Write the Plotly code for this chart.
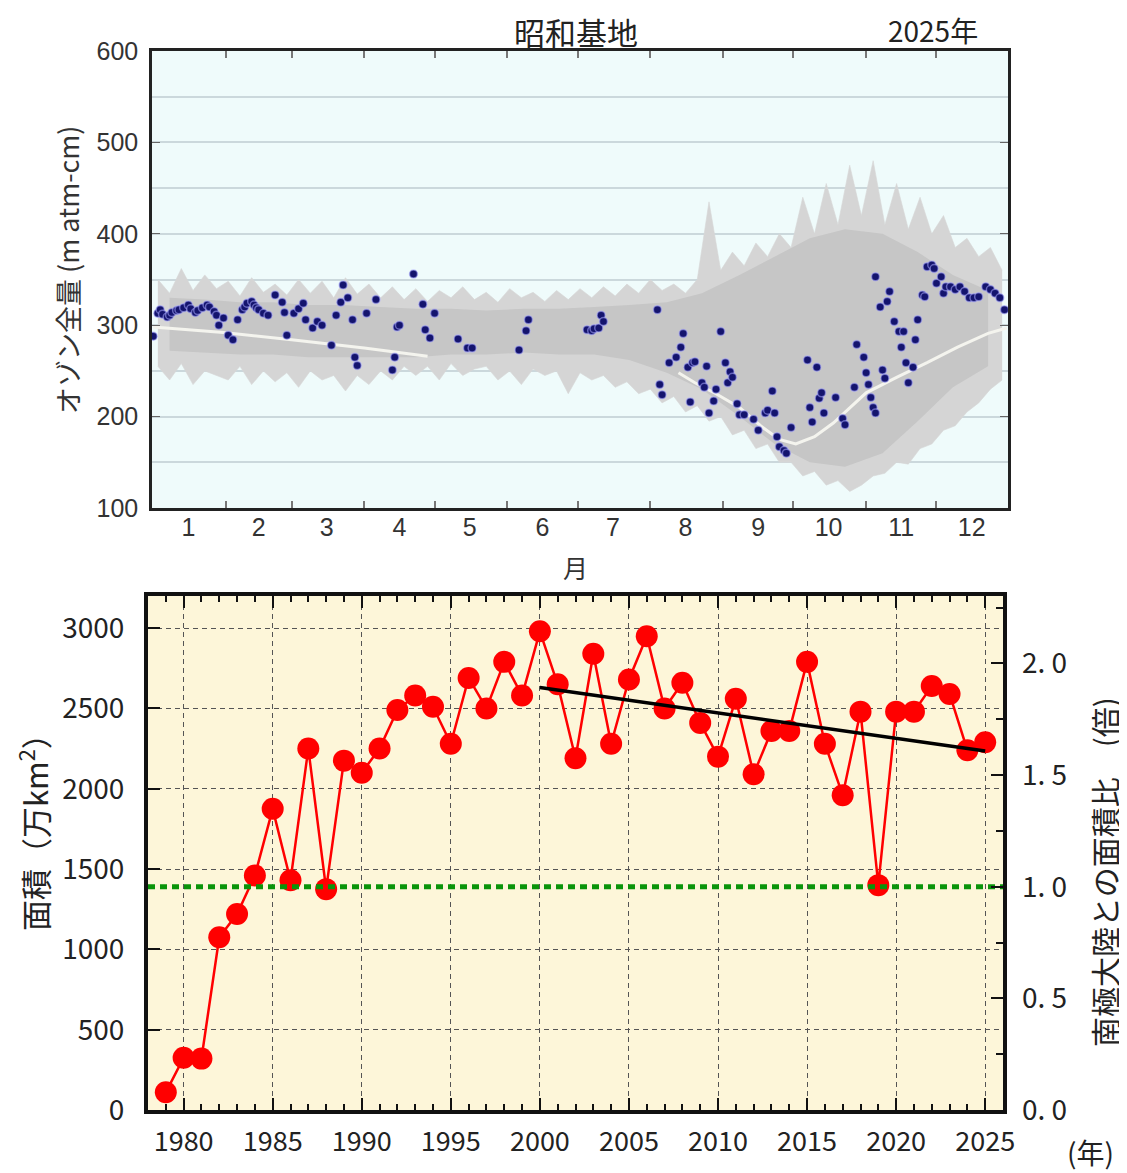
import plotly.graph_objects as go

# ---------------- top chart data (Syowa station, total ozone, 2025) ----------------
month_labels = ["1", "2", "3", "4", "5", "6", "7", "8", "9", "10", "11", "12"]
month_mid_days = [16, 46, 75, 106, 136, 167, 197, 228, 259, 289, 320, 350]
month_start_days = [32, 60, 91, 121, 152, 182, 213, 244, 274, 305, 335]

# historical daily max/min envelope, read at 5-day steps
band_days = list(range(3, 364, 5))
band_max = [350, 335, 362, 338, 355, 340, 348, 332, 352, 336,
            345, 333, 350, 335, 348, 330, 352, 334, 345, 330,
            342, 328, 340, 326, 338, 330, 342, 328, 336, 325,
            340, 330, 336, 326, 338, 328, 340, 330, 342, 332,
            345, 335, 350, 338, 345, 335, 350, 435, 360, 380,
            365, 390, 375, 400, 385, 440, 400, 455, 410, 475,
            420, 480, 410, 455, 405, 440, 400, 420, 385, 395,
            375, 385, 360]
band_min = [255, 240, 258, 235, 250, 245, 240, 255, 235, 250,
            238, 248, 232, 250, 240, 245, 228, 245, 235, 250,
            240, 255, 245, 255, 240, 258, 245, 252, 255, 240,
            250, 235, 252, 245, 250, 225, 248, 240, 245, 232,
            238, 225, 230, 215, 222, 205, 212, 195, 200, 180,
            185, 165, 170, 150, 150, 135, 140, 125, 130, 118,
            125, 135, 138, 150, 148, 165, 170, 185, 190, 205,
            215, 230, 240]

# inner (typical) range, read at half-month steps
inner_days = [8, 23, 38, 52, 67, 82, 98, 113, 128, 143, 159, 174,
              189, 204, 220, 235, 251, 266, 281, 296, 312, 327, 342, 357]
inner_max = [330, 328, 325, 325, 322, 322, 320, 318, 318, 316, 318, 318,
             320, 322, 325, 335, 355, 375, 395, 405, 400, 380, 355, 338]
inner_min = [272, 270, 268, 268, 265, 265, 265, 265, 268, 268, 270, 268,
             268, 262, 248, 230, 200, 170, 150, 145, 160, 195, 232, 255]

# climatological mean (white line), two visible segments
mean_days_1 = [1, 31, 60, 91, 118]
mean_vals_1 = [298, 292, 284, 275, 266]
mean_days_2 = [225, 232, 241, 251, 260, 268, 275, 283, 291, 298, 305, 318, 331, 344, 357, 365]
mean_vals_2 = [248, 237, 225, 210, 190, 175, 170, 178, 193, 210, 226, 243, 259, 276, 291, 297]

# 2025 daily observations
obs_days = [1, 3, 4, 5, 7, 8, 9, 11, 12, 14, 16, 17, 19, 20, 22, 24, 25, 27, 28, 29,
            31, 33, 35, 37, 39, 40, 41, 43, 44, 45, 46, 48, 50, 53, 56, 57, 58, 61, 63, 65,
            66, 69, 71, 73, 77, 79, 81, 82, 84, 86, 87, 88, 92, 96, 103, 104, 105, 106, 112, 116,
            117, 119, 121, 131, 135, 137, 157, 160, 161, 186, 188, 189, 191, 192, 193,
            216, 217, 218, 221, 224, 226, 227, 229, 230, 231, 232, 235, 236, 237, 238, 240, 241,
            243, 245, 246, 247, 248, 250, 251, 253, 257, 259, 262, 263, 265, 266, 267, 268, 270, 271,
            273, 280, 281, 282, 284, 285, 286, 287, 292, 295, 296, 300, 301, 304, 305, 306, 307, 308,
            309, 309, 311, 312, 313, 314, 315, 317, 319, 320, 321, 322, 323, 325, 326, 327, 329, 330,
            331, 333, 334, 335, 337, 338, 339, 341, 343, 345, 347, 349, 351, 353, 356, 358, 360, 362, 364]
obs_vals = [288, 313, 317, 312, 309, 311, 314, 316, 317, 319, 322, 318, 314, 316, 319, 322, 320, 315, 311, 300,
            308, 289, 284, 306, 317, 320, 324, 326, 322, 319, 317, 313, 311, 333, 325, 314, 289, 313, 318, 324,
            306, 297, 304, 300, 278, 311, 325, 344, 330, 306, 265, 256, 313, 328, 251, 265, 298, 300, 356, 323,
            295, 286, 313, 285, 275, 275, 273, 294, 306, 295, 294, 296, 297, 311, 304,
            317, 235, 224, 259, 265, 276, 291, 254, 216, 259, 260, 237, 232, 255, 204, 217, 230,
            293, 259, 237, 249, 243, 214, 202, 202, 197, 185, 204, 207, 228, 204, 178, 167, 163, 160,
            188, 262, 210, 194, 254, 220, 226, 204, 221, 198, 191, 232, 279, 265, 248, 235, 221, 210,
            204, 353, 320, 251, 242, 326, 337, 304, 293, 276, 293, 259, 237, 254, 284, 306, 333, 331,
            364, 366, 362, 346, 353, 335, 342, 342, 339, 342, 337, 330, 330, 331, 342, 339, 335, 330, 317]

# ---------------- bottom chart data (ozone hole area) ----------------
years = list(range(1979, 2026))
hole_area = [110, 325, 320, 1075, 1220, 1460, 1875, 1430, 2250, 1375,
             2175, 2100, 2250, 2490, 2580, 2510, 2280, 2690, 2500, 2790,
             2580, 2980, 2650, 2190, 2840, 2280, 2680, 2950, 2500, 2660,
             2410, 2200, 2560, 2090, 2360, 2360, 2790, 2280, 1960, 2480,
             1400, 2480, 2480, 2640, 2590, 2240, 2290]
trend_years = [2000, 2025]
trend_area = [2630, 2235]
antarctic_area = 1390  # 万km2, area of the Antarctic continent
ratio_ticks = [0.0, 0.5, 1.0, 1.5, 2.0]
ratio_labels = ["0. 0", "0. 5", "1. 0", "1. 5", "2. 0"]

JP = "Noto Sans CJK JP"
SANS = "Liberation Sans"

# page offset (the page body has an 8px margin), figure size fits the window
OFF = 8
W, H = 1127 - OFF, 1173 - OFF


def fx(x):
    return (x - OFF) / W


def fy(y):
    return 1 - (y - OFF) / H


fig = go.Figure()

# ---- top chart traces ----
fig.add_trace(go.Scatter(x=band_days, y=band_min, mode="lines", line=dict(width=0.6, color="#d6d6d6"),
                         xaxis="x", yaxis="y", hoverinfo="skip", showlegend=False))
fig.add_trace(go.Scatter(x=band_days, y=band_max, mode="lines", line=dict(width=0.6, color="#d6d6d6"),
                         fill="tonexty", fillcolor="#d5d5d5",
                         xaxis="x", yaxis="y", hoverinfo="skip", showlegend=False))
fig.add_trace(go.Scatter(x=inner_days, y=inner_min, mode="lines", line=dict(width=0, color="#c4c4c4"),
                         xaxis="x", yaxis="y", hoverinfo="skip", showlegend=False))
fig.add_trace(go.Scatter(x=inner_days, y=inner_max, mode="lines", line=dict(width=0, color="#c4c4c4"),
                         fill="tonexty", fillcolor="#c6c6c6",
                         xaxis="x", yaxis="y", hoverinfo="skip", showlegend=False))
fig.add_trace(go.Scatter(x=mean_days_1 + [None] + mean_days_2, y=mean_vals_1 + [None] + mean_vals_2,
                         mode="lines", line=dict(width=3, color="#f4f4ee"),
                         xaxis="x", yaxis="y", hoverinfo="skip", showlegend=False))
fig.add_trace(go.Scatter(x=obs_days, y=obs_vals, mode="markers",
                         marker=dict(size=8, color="#14146e", line=dict(width=1.5, color="rgba(170,170,255,0.55)")),
                         xaxis="x", yaxis="y", showlegend=False))

# ---- bottom chart traces ----
fig.add_trace(go.Scatter(x=[1978, 2026], y=[1.0, 1.0], mode="lines",
                         line=dict(width=5, color="#0a940a", dash="7px,5px"),
                         xaxis="x2", yaxis="y3", hoverinfo="skip", showlegend=False))
fig.add_trace(go.Scatter(x=years, y=hole_area, mode="lines+markers",
                         line=dict(width=2.5, color="#ff0000"),
                         marker=dict(size=22, color="#ff0000"),
                         xaxis="x2", yaxis="y2", showlegend=False))
fig.add_trace(go.Scatter(x=trend_years, y=trend_area, mode="lines",
                         line=dict(width=3.5, color="#000000"),
                         xaxis="x2", yaxis="y2", showlegend=False))

top_tickfont = dict(family=SANS, size=25, color="#333333")
bot_tickfont = dict(family=JP, size=28, color="#222222")


def ann(text, x, y, size, angle=0, color="#222222", yanchor="middle"):
    return dict(text=text, x=fx(x), y=fy(y), xref="paper", yref="paper",
                xanchor="center", yanchor=yanchor, showarrow=False, textangle=angle,
                borderpad=0, font=dict(family=JP, size=size, color=color))


fig.update_layout(
    width=W, height=H,
    margin=dict(l=0, r=0, t=0, b=0, pad=0, autoexpand=False),
    paper_bgcolor="white", plot_bgcolor="rgba(0,0,0,0)",
    showlegend=False,
    xaxis=dict(domain=[fx(152), fx(1008)], anchor="y", range=[0.5, 365.5], automargin=False,
               tickmode="array", tickvals=month_mid_days, ticktext=month_labels, ticks="",
               minor=dict(tickmode="array", tickvals=month_start_days, ticks="inside", ticklen=7,
                          tickcolor="#777777", tickwidth=1.5),
               showline=True, linecolor="#222222", linewidth=2.5, mirror="ticks",
               showgrid=False, zeroline=False, tickfont=top_tickfont, fixedrange=True,
               ticklabelstandoff=-5),
    yaxis=dict(domain=[fy(508), fy(51)], anchor="x", range=[100, 600], automargin=False,
               tickmode="linear", tick0=100, dtick=100, ticks="inside", ticklen=8, tickcolor="#666666",
               showgrid=True, gridcolor="#cbd8dc", gridwidth=1.5,
               minor=dict(tickmode="linear", tick0=100, dtick=50, showgrid=True, gridcolor="#cbd8dc", gridwidth=1.5),
               showline=True, linecolor="#222222", linewidth=2.5, mirror="ticks",
               zeroline=False, tickfont=top_tickfont, ticklabelstandoff=6),
    xaxis2=dict(domain=[fx(148), fx(1003)], anchor="y2", range=[1978, 2026], automargin=False,
                tickmode="linear", tick0=1980, dtick=5, ticks="inside", ticklen=12, tickwidth=2,
                tickcolor="#111111",
                minor=dict(tickmode="linear", tick0=1978, dtick=1, ticks="inside", ticklen=6, tickwidth=1.5,
                           tickcolor="#111111"),
                showgrid=True, gridcolor="#555555", gridwidth=1.3, griddash="5px,4px",
                showline=True, linecolor="#111111", linewidth=4, mirror="ticks",
                zeroline=False, tickfont=dict(family=JP, size=27, color="#222222"), ticklabelstandoff=5),
    yaxis2=dict(domain=[fy(1110), fy(596)], anchor="x2", range=[0, 3200], automargin=False,
                tickmode="linear", tick0=0, dtick=500, ticks="inside", ticklen=12, tickwidth=2,
                tickcolor="#111111",
                showgrid=True, gridcolor="#555555", gridwidth=1.3, griddash="5px,4px",
                showline=True, linecolor="#111111", linewidth=4, mirror=True,
                zeroline=False, tickfont=bot_tickfont, ticklabelstandoff=14),
    yaxis3=dict(overlaying="y2", anchor="x2", side="right", range=[0, 3200 / antarctic_area], automargin=False,
                tickmode="array", tickvals=ratio_ticks, ticktext=ratio_labels,
                ticks="inside", ticklen=12, tickwidth=2, tickcolor="#111111",
                minor=dict(tickmode="linear", tick0=0, dtick=0.25, ticks="inside", ticklen=7, tickwidth=1.5,
                           tickcolor="#111111"),
                showgrid=False, showline=False, zeroline=False,
                tickfont=bot_tickfont, ticklabelstandoff=18),
    shapes=[
        dict(type="rect", xref="x domain", yref="y domain", x0=0, x1=1, y0=0, y1=1,
             fillcolor="#effbfb", line=dict(width=0), layer="below"),
        dict(type="rect", xref="x2 domain", yref="y2 domain", x0=0, x1=1, y0=0, y1=1,
             fillcolor="#fdf6d9", line=dict(width=0), layer="below"),
    ],
    annotations=[
        ann("昭和基地", 576, 8, 31, yanchor="top"),
        ann("2025年", 933, 9, 28, yanchor="top"),
        ann("オゾン全量 (m atm-cm)", 68, 270, 27, -90, "#333333"),
        ann("月", 575, 567, 25, 0, "#333333"),
        ann("面積（万km<sup>2</sup>）", 33, 825, 31, -90),
        ann("南極大陸との面積比　(倍)", 1104, 872, 30, -90),
        ann("(年)", 1090, 1173, 28, yanchor="bottom"),
    ],
)

fig.write_html("out.html")
